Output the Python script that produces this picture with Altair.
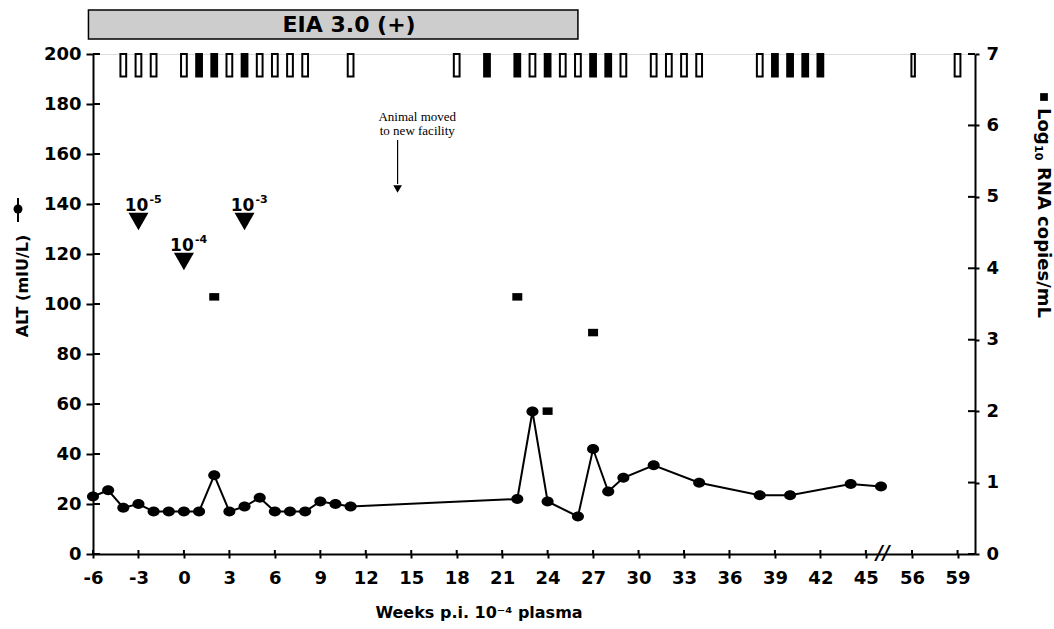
import altair as alt
import pandas as pd

# ---------------- data ----------------
alt_weeks = [-6, -5, -4, -3, -2, -1, 0, 1, 2, 3, 4, 5, 6, 7, 8, 9, 10, 11,
             22, 23, 24, 26, 27, 28, 29, 31, 34, 38, 40, 44, 46]
alt_values = [23, 25.5, 18.5, 20, 17, 17, 17, 17, 31.5, 17, 19, 22.5, 17, 17, 17, 21, 20, 19,
              22, 57, 21, 15, 42, 25, 30.5, 35.5, 28.5, 23.5, 23.5, 28, 27]

rna_weeks = [2, 22, 24, 27]
rna_values = [3.6, 3.6, 2.0, 3.1]

test_weeks = [-4, -3, -2, 0, 1, 2, 3, 4, 5, 6, 7, 8, 11,
              18, 20, 22, 23, 24, 25, 26, 27, 28, 29, 31, 32, 33, 34,
              38, 39, 40, 41, 42, 56, 59]
test_result = ["open", "open", "open", "open", "filled", "filled", "open", "filled", "open", "open",
               "open", "open", "open",
               "open", "filled", "filled", "open", "filled", "open", "open", "filled", "filled", "open",
               "open", "open", "open", "open",
               "open", "filled", "filled", "filled", "filled", "open", "open"]

dose_weeks = [-3, 0, 4]
dose_alt = [133, 117, 133]
dose_exp = ["-5", "-4", "-3"]

x_ticks = [-6, -3, 0, 3, 6, 9, 12, 15, 18, 21, 24, 27, 30, 33, 36, 39, 42, 45, 56, 59]
alt_ticks = [0, 20, 40, 60, 80, 100, 120, 140, 160, 180, 200]
rna_ticks = [0, 1, 2, 3, 4, 5, 6, 7]

eia_label = "EIA 3.0 (+)"
eia_span = [-6.3, 26.0]
eia_text_week = 10.9
move_lines = ["Animal moved", "to new facility"]
move_week = 14.1
text_week = 15.4
break_week = 46.6

# ---------------- styling ----------------
FONT = "DejaVu Sans"
SERIF = "Liberation Serif"
W, H = 882, 500

xs = alt.Scale(domain=[-6, 46, 56, 60.15], range=[0, 788, 819, W])
ys = alt.Scale(domain=[0, 200], nice=False)
rs = alt.Scale(domain=[0, 7], nice=False)

common = dict(title=None, labelFontSize=18, labelFontWeight="bold", labelFont=FONT,
              labelColor="black", domainColor="black", domainWidth=2,
              tickColor="black", tickWidth=2, grid=False, labelOverlap=False,
              labelExpr="datum.value + ''")
x_axis = alt.Axis(values=x_ticks, tickSize=4, labelPadding=11, labelFlush=False, **common)
y_axis = alt.Axis(values=alt_ticks, tickSize=7, labelPadding=5, **common)
r_axis = alt.Axis(values=rna_ticks, orient="right", tickSize=4, labelPadding=7, **common)

df_alt = pd.DataFrame({"week": alt_weeks, "alt": alt_values})
df_rna = pd.DataFrame({"week": rna_weeks, "rna": rna_values})
df_test = pd.DataFrame({"week": test_weeks, "result": test_result})
df_dose = pd.DataFrame({"week": dose_weeks, "alt": dose_alt, "exp": dose_exp, "base": ["10"] * 3})
one = pd.DataFrame({"k": [0]})


def X(f):
    return alt.X(f, scale=xs, axis=x_axis)


def Y(f):
    return alt.Y(f, scale=ys, axis=y_axis)


def R(f):
    return alt.Y(f, scale=rs, axis=r_axis)


line = alt.Chart(df_alt).mark_line(color="black", strokeWidth=2).encode(x=X("week:Q"), y=Y("alt:Q"))
dots = alt.Chart(df_alt).mark_point(
    shape="M-1,0A1,0.82 0 1,0 1,0A1,0.82 0 1,0 -1,0Z", filled=True, size=145,
    color="black", opacity=1).encode(x=X("week:Q"), y=Y("alt:Q"))

tests = alt.Chart(df_test).transform_calculate(
    x1="datum.week - 0.19", x2="datum.week + 0.19", lo="191", hi="200"
).mark_rect(stroke="black", strokeWidth=2).encode(
    x=X("x1:Q"), x2="x2:Q", y=Y("lo:Q"), y2="hi:Q",
    fill=alt.Fill("result:N", scale=alt.Scale(domain=["open", "filled"], range=["white", "black"]),
                  legend=None),
)

eia_box = alt.Chart(pd.DataFrame({"s": [eia_span[0]], "e": [eia_span[1]], "lo": [206], "hi": [217.6]})).mark_rect(
    fill="#cdcdcd", stroke="black", strokeWidth=1.5).encode(x=X("s:Q"), x2="e:Q", y=Y("lo:Q"), y2="hi:Q")
eia_text = alt.Chart(pd.DataFrame({"w": [eia_text_week], "v": [211.8], "t": [eia_label]})).mark_text(
    font=FONT, fontWeight="bold", fontSize=22, color="black").encode(x=X("w:Q"), y=Y("v:Q"), text="t:N")

tri = alt.Chart(df_dose).mark_point(shape="triangle-down", filled=True, size=400, color="black",
                                    opacity=1).encode(x=X("week:Q"), y=Y("alt:Q"))
tri_base = alt.Chart(df_dose).mark_text(font=FONT, fontWeight="bold", fontSize=17, color="black",
                                        dy=-16, dx=-2).encode(x=X("week:Q"), y=Y("alt:Q"), text="base:N")
tri_exp = alt.Chart(df_dose).mark_text(font=FONT, fontWeight="bold", fontSize=11, color="black",
                                       dy=-22, dx=11, align="left").encode(x=X("week:Q"), y=Y("alt:Q"), text="exp:N")

move_df = pd.DataFrame({"w": [text_week, text_week], "v": [174.8, 169.2], "t": move_lines})
move_text = alt.Chart(move_df).mark_text(font=SERIF, fontSize=13, color="black").encode(
    x=X("w:Q"), y=Y("v:Q"), text="t:N")
arrow = alt.Chart(pd.DataFrame({"w": [move_week], "a": [165.6], "b": [148]})).mark_rule(
    color="black", strokeWidth=1.2).encode(x=X("w:Q"), y=Y("a:Q"), y2="b:Q")
arrow_head = alt.Chart(pd.DataFrame({"w": [move_week], "v": [146]})).mark_point(
    shape="triangle-down", filled=True, size=75, color="black", opacity=1).encode(x=X("w:Q"), y=Y("v:Q"))

in_ticks_y = alt.Chart(pd.DataFrame({"v": alt_ticks})).mark_rule(color="black", strokeWidth=2).encode(
    x=alt.value(0), x2=alt.value(7), y=Y("v:Q"))
in_ticks_x = alt.Chart(pd.DataFrame({"v": x_ticks})).mark_rule(color="black", strokeWidth=2).encode(
    x=X("v:Q"), y=alt.value(H), y2=alt.value(H - 4))

brk = alt.Chart(pd.DataFrame({"w": [break_week], "v": [0], "t": ["//"]})).mark_text(
    font=FONT, fontSize=19, fontWeight="bold", fontStyle="italic", color="black", dy=-1).encode(
    x=X("w:Q"), y=Y("v:Q"), text="t:N")

left_title = alt.Chart(one).mark_text(font=FONT, fontWeight="bold", fontSize=16, angle=270,
                                      color="black").encode(
    x=alt.value(-70), y=alt.value(232), text=alt.value("ALT (mIU/L)"))
left_sym_line = alt.Chart(one).mark_rule(color="black", strokeWidth=2).encode(
    x=alt.value(-75), y=alt.value(144), y2=alt.value(168))
left_sym_dot = alt.Chart(one).mark_point(shape="circle", filled=True, size=80, color="black",
                                         opacity=1).encode(x=alt.value(-75), y=alt.value(155))

r_sq = alt.Chart(one).mark_point(shape="square", filled=True, size=60, color="black", opacity=1).encode(
    x=alt.value(951), y=alt.value(43))
r_t1 = alt.Chart(one).mark_text(font=FONT, fontWeight="bold", fontSize=18, angle=90, align="left",
                                color="black").encode(x=alt.value(950), y=alt.value(54), text=alt.value("Log"))
r_t2 = alt.Chart(one).mark_text(font=FONT, fontWeight="bold", fontSize=11, angle=90, align="left",
                                color="black").encode(x=alt.value(945), y=alt.value(91), text=alt.value("10"))
r_t3 = alt.Chart(one).mark_text(font=FONT, fontWeight="bold", fontSize=18, angle=90, align="left",
                                color="black").encode(x=alt.value(950), y=alt.value(113),
                                                      text=alt.value("RNA copies/mL"))

x_title = alt.Chart(one).mark_text(font=FONT, fontWeight="bold", fontSize=16, color="black").encode(
    x=alt.value(386), y=alt.value(559), text=alt.value("Weeks p.i. 10\u207b\u2074 plasma"))

alt_group = alt.layer(line, dots, tests, eia_box, eia_text, tri, tri_base, tri_exp, move_text, arrow,
                      arrow_head, in_ticks_y, in_ticks_x, brk, left_title, left_sym_line, left_sym_dot,
                      r_sq, r_t1, r_t2, r_t3, x_title)

rna_pts = alt.Chart(df_rna).mark_point(
    shape="M-1,-0.75L1,-0.75L1,0.75L-1,0.75Z", filled=True, size=100, color="black", opacity=1).encode(
    x=X("week:Q"), y=R("rna:Q"))
in_ticks_r = alt.Chart(pd.DataFrame({"v": rna_ticks})).mark_rule(color="black", strokeWidth=2).encode(
    x=alt.value(W - 7), x2=alt.value(W), y=R("v:Q"))
rna_group = alt.layer(rna_pts, in_ticks_r)

chart = alt.layer(alt_group, rna_group).resolve_scale(y="independent").properties(
    width=W, height=H,
    padding={"left": 93, "top": 54, "right": 1054 - 93 - W, "bottom": 629 - 54 - H},
    autosize=alt.AutoSizeParams(type="none"),
).configure_view(stroke=None).configure(background="white")

chart.save("out.html", embed_options={"renderer": "svg", "actions": False})
